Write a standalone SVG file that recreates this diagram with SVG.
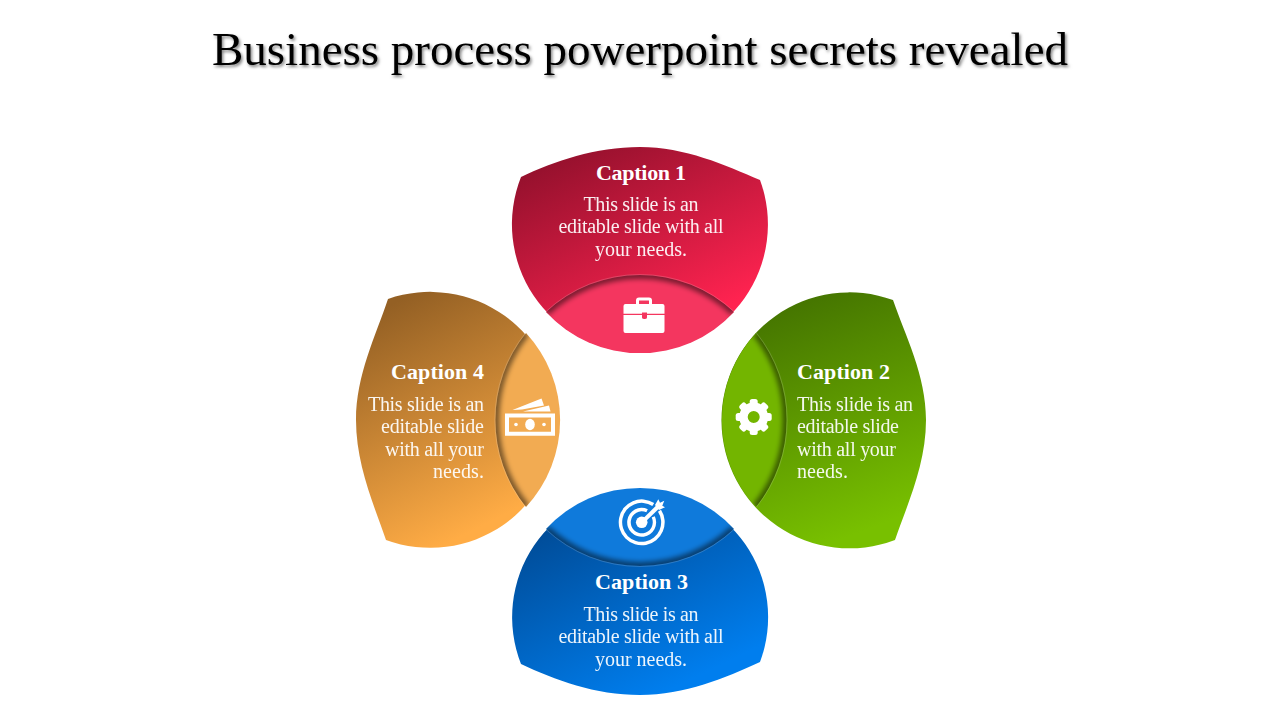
<svg xmlns="http://www.w3.org/2000/svg" width="1280" height="720" viewBox="0 0 1280 720">
<style>
text{font-family:"Liberation Serif","Times New Roman",serif;fill:#fff}
.t{font-size:47px;fill:#000;filter:url(#ts)}
.c{font-size:22px;font-weight:700}
.b{font-size:20px;opacity:.93}
.m{text-anchor:middle}
.e{text-anchor:end}
.sh{fill:none;stroke:#000;stroke-width:8;stroke-opacity:.5;filter:url(#bl)}
.hl{fill:none;stroke:#fff;stroke-opacity:.22;stroke-width:.8}
.ic{fill:#fff}
</style>
<defs>
<filter id="ts" x="-5%" y="-30%" width="110%" height="170%"><feDropShadow dx="1.5" dy="2" stdDeviation="1.6" flood-color="#000" flood-opacity=".5"/></filter>
<filter id="bl" x="-30%" y="-30%" width="160%" height="160%"><feGaussianBlur stdDeviation="2.4"/></filter>
<linearGradient id="gr" x1=".2" y1="0" x2=".8" y2="1"><stop offset="0" stop-color="#92102C"/><stop offset=".85" stop-color="#FF2350"/></linearGradient>
<linearGradient id="gg" x1=".35" y1="0" x2=".65" y2="1"><stop offset="0" stop-color="#437200"/><stop offset=".95" stop-color="#78C000"/></linearGradient>
<linearGradient id="gb" x1=".2" y1="0" x2=".8" y2="1"><stop offset="0" stop-color="#00458C"/><stop offset=".9" stop-color="#007EEE"/></linearGradient>
<linearGradient id="go" x1=".3" y1="0" x2=".7" y2="1"><stop offset="0" stop-color="#946024"/><stop offset=".9" stop-color="#FFAC45"/></linearGradient>
<clipPath id="c1"><path d="M546,312A138,138 0 0 1 734,312A128,128 0 0 1 546,312Z"/></clipPath>
<clipPath id="c2"><path d="M756,333A139,139 0 0 1 756,507A128,128 0 0 1 756,333Z"/></clipPath>
<clipPath id="c3"><path d="M734,529A138,138 0 0 1 546,529A128,128 0 0 1 734,529Z"/></clipPath>
<clipPath id="c4"><path d="M526,507A139,139 0 0 1 526,333A128,128 0 0 1 526,507Z"/></clipPath>
</defs>
<rect width="1280" height="720" fill="#fff"/>
<text id="title" class="t m" x="640" y="65" textLength="856" lengthAdjust="spacing">Business process powerpoint secrets revealed</text>

<g id="node-1">
<path d="M521,177C555,161 595,147 640,147C685,147 725,165 760,180A128,128 0 1 1 521,177Z" fill="url(#gr)"/>
<path d="M546,312A138,138 0 0 1 734,312A128,128 0 0 1 546,312Z" fill="#F4365F"/>
<g clip-path="url(#c1)"><path class="sh" d="M546,312A138,138 0 0 1 734,312"/></g>
<path class="hl" d="M546,311.500A138,138 0 0 1 734,311.500"/>
<g id="icon-briefcase" class="ic">
<path fill-rule="evenodd" d="M636,304V300.500Q636,297.500 639,297.500H649Q652,297.500 652,300.500V304H662.500Q664.500,304 664.500,306V313.800H647V312.500H642V313.800H623.500V306Q623.500,304 625.500,304ZM639,304H649V300.500H639Z"/>
<path d="M623.500,315H642V317.500Q642,319 644.500,319Q647,319 647,317.500V315H664.500V331Q664.500,333 662.500,333H625.500Q623.500,333 623.500,331Z"/>
</g>
<text class="c m" x="641" y="180" textLength="90" lengthAdjust="spacing">Caption 1</text>
<text class="b m" x="641" y="211" textLength="115" lengthAdjust="spacing">This slide is an</text>
<text class="b m" x="641" y="233" textLength="165" lengthAdjust="spacing">editable slide with all</text>
<text class="b m" x="641" y="256" textLength="92" lengthAdjust="spacing">your needs.</text>
</g>

<g id="node-2">
<path d="M893,300C905,335 926,375 926,420C926,465 907,505 895,540A128,128 0 1 1 893,300Z" fill="url(#gg)"/>
<path d="M756,333A139,139 0 0 1 756,507A128,128 0 0 1 756,333Z" fill="#73B500"/>
<g clip-path="url(#c2)"><path class="sh" d="M756,333A139,139 0 0 1 756,507"/></g>
<path class="hl" d="M756.500,333A139,139 0 0 1 756.500,507"/>
<g id="icon-gear" class="ic" transform="translate(753.700,417)">
<path fill-rule="evenodd" d="M0,-14.500A14.500,14.500 0 1 1 0,14.500A14.500,14.500 0 1 1 0,-14.500ZM0,-6A6,6 0 1 0 0,6A6,6 0 1 0 0,-6Z"/>
<rect x="-4" y="-18" width="8" height="7" rx="2.500"/>
<rect x="-4" y="-18" width="8" height="7" rx="2.500" transform="rotate(45)"/>
<rect x="-4" y="-18" width="8" height="7" rx="2.500" transform="rotate(90)"/>
<rect x="-4" y="-18" width="8" height="7" rx="2.500" transform="rotate(135)"/>
<rect x="-4" y="-18" width="8" height="7" rx="2.500" transform="rotate(180)"/>
<rect x="-4" y="-18" width="8" height="7" rx="2.500" transform="rotate(225)"/>
<rect x="-4" y="-18" width="8" height="7" rx="2.500" transform="rotate(270)"/>
<rect x="-4" y="-18" width="8" height="7" rx="2.500" transform="rotate(315)"/>
</g>
<text class="c" x="797" y="379" textLength="93" lengthAdjust="spacing">Caption 2</text>
<text class="b" x="797" y="411" textLength="116" lengthAdjust="spacing">This slide is an</text>
<text class="b" x="797" y="433" textLength="102" lengthAdjust="spacing">editable slide</text>
<text class="b" x="797" y="456" textLength="99" lengthAdjust="spacing">with all your</text>
<text class="b" x="797" y="478" textLength="51" lengthAdjust="spacing">needs.</text>
</g>

<g id="node-3">
<path d="M760,662C725,678 685,695 640,695C595,695 555,680 521,664A128,128 0 1 1 760,662Z" fill="url(#gb)"/>
<path d="M734,529A138,138 0 0 1 546,529A128,128 0 0 1 734,529Z" fill="#0F7ADB"/>
<g clip-path="url(#c3)"><path class="sh" d="M734,529A138,138 0 0 1 546,529"/></g>
<path class="hl" d="M734,529.500A138,138 0 0 1 546,529.500"/>
<g id="icon-target" class="ic">
<path d="M654.200,503A23,23 0 1 0 661,509.800L658,511.700A19.500,19.500 0 1 1 652.300,506Z"/>
<path d="M647.800,509.200A14.500,14.500 0 1 0 654.800,516.200L651.700,517.600A11,11 0 1 1 646.300,512.300Z"/>
<circle cx="641.700" cy="522.300" r="5.800"/>
<path d="M640.500,521L656.700,505L659.700,508L643,524Z"/>
<path d="M655,505L658.300,499.300L660,502.700L664.300,500.700L662.300,505.700L665,507.300L659,510Z"/>
</g>
<text class="c m" x="641.500" y="589" textLength="93" lengthAdjust="spacing">Caption 3</text>
<text class="b m" x="641" y="621" textLength="115" lengthAdjust="spacing">This slide is an</text>
<text class="b m" x="641" y="643" textLength="165" lengthAdjust="spacing">editable slide with all</text>
<text class="b m" x="641" y="666" textLength="92" lengthAdjust="spacing">your needs.</text>
</g>

<g id="node-4">
<path d="M386,540C374,505 356,465 356,420C356,375 376,335 388,299A128,128 0 1 1 386,540Z" fill="url(#go)"/>
<path d="M526,507A139,139 0 0 1 526,333A128,128 0 0 1 526,507Z" fill="#F2AB52"/>
<g clip-path="url(#c4)"><path class="sh" d="M526,507A139,139 0 0 1 526,333"/></g>
<path class="hl" d="M525.500,507A139,139 0 0 1 525.500,333"/>
<g id="icon-money" class="ic">
<path fill-rule="evenodd" d="M505,413.500H555V435.700H505ZM509,417.500V431.700H551V417.500Z"/>
<ellipse cx="530" cy="424.500" rx="4.800" ry="5.800"/>
<circle cx="516" cy="424.500" r="1.800"/>
<circle cx="544" cy="424.500" r="1.800"/>
<path d="M512.500,410L541.500,398.500L544,405.500L522,409.500Z"/>
<path d="M523,411.500L549,405.500L550.500,411.500Z"/>
</g>
<text class="c e" x="484" y="379" textLength="93" lengthAdjust="spacing">Caption 4</text>
<text class="b e" x="484" y="411" textLength="116" lengthAdjust="spacing">This slide is an</text>
<text class="b e" x="484" y="433" textLength="103" lengthAdjust="spacing">editable slide</text>
<text class="b e" x="484" y="456" textLength="99" lengthAdjust="spacing">with all your</text>
<text class="b e" x="484" y="478" textLength="51" lengthAdjust="spacing">needs.</text>
</g>
</svg>
